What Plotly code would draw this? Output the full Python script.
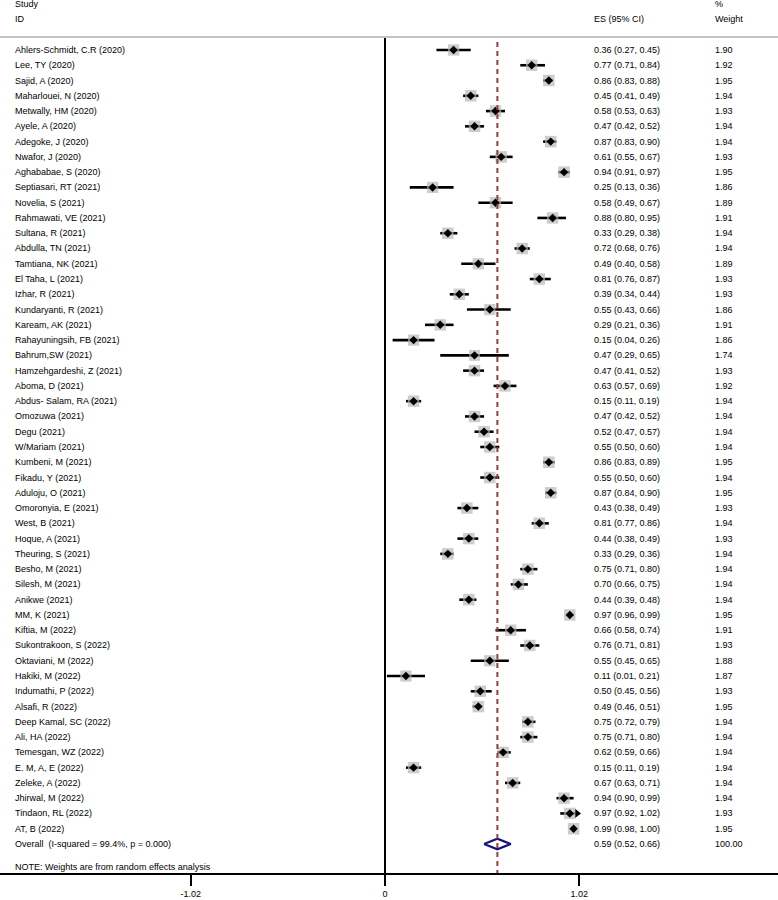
import plotly.graph_objects as go

# study-level data
studies = [
    'Ahlers-Schmidt, C.R (2020)', 'Lee, TY (2020)', 'Sajid, A (2020)', 'Maharlouei, N (2020)',
    'Metwally, HM (2020)', 'Ayele, A (2020)', 'Adegoke, J (2020)', 'Nwafor, J (2020)',
    'Aghababae, S (2020)', 'Septiasari, RT (2021)', 'Novelia, S (2021)', 'Rahmawati, VE (2021)',
    'Sultana, R (2021)', 'Abdulla, TN (2021)', 'Tamtiana, NK (2021)', 'El Taha, L (2021)',
    'Izhar, R (2021)', 'Kundaryanti, R (2021)', 'Kaream, AK (2021)', 'Rahayuningsih, FB (2021)',
    'Bahrum,SW (2021)', 'Hamzehgardeshi, Z (2021)', 'Aboma, D (2021)', 'Abdus- Salam, RA (2021)',
    'Omozuwa (2021)', 'Degu (2021)', 'W/Mariam (2021)', 'Kumbeni, M (2021)',
    'Fikadu, Y (2021)', 'Aduloju, O (2021)', 'Omoronyia, E (2021)', 'West, B (2021)',
    'Hoque, A (2021)', 'Theuring, S (2021)', 'Besho, M (2021)', 'Silesh, M (2021)',
    'Anikwe (2021)', 'MM, K (2021)', 'Kiftia, M (2022)', 'Sukontrakoon, S (2022)',
    'Oktaviani, M (2022)', 'Hakiki, M (2022)', 'Indumathi, P (2022)', 'Alsafi, R (2022)',
    'Deep Kamal, SC (2022)', 'Ali, HA (2022)', 'Temesgan, WZ (2022)', 'E. M, A, E (2022)',
    'Zeleke, A (2022)', 'Jhirwal, M (2022)', 'Tindaon, RL (2022)', 'AT, B (2022)',
]
es = [0.36, 0.77, 0.86, 0.45, 0.58, 0.47, 0.87, 0.61, 0.94, 0.25, 0.58, 0.88, 0.33,
      0.72, 0.49, 0.81, 0.39, 0.55, 0.29, 0.15, 0.47, 0.47, 0.63, 0.15, 0.47, 0.52,
      0.55, 0.86, 0.55, 0.87, 0.43, 0.81, 0.44, 0.33, 0.75, 0.70, 0.44, 0.97, 0.66,
      0.76, 0.55, 0.11, 0.50, 0.49, 0.75, 0.75, 0.62, 0.15, 0.67, 0.94, 0.97, 0.99]
ci_lo = [0.27, 0.71, 0.83, 0.41, 0.53, 0.42, 0.83, 0.55, 0.91, 0.13, 0.49, 0.80, 0.29,
         0.68, 0.40, 0.76, 0.34, 0.43, 0.21, 0.04, 0.29, 0.41, 0.57, 0.11, 0.42, 0.47,
         0.50, 0.83, 0.50, 0.84, 0.38, 0.77, 0.38, 0.29, 0.71, 0.66, 0.39, 0.96, 0.58,
         0.71, 0.45, 0.01, 0.45, 0.46, 0.72, 0.71, 0.59, 0.11, 0.63, 0.90, 0.92, 0.98]
ci_hi = [0.45, 0.84, 0.88, 0.49, 0.63, 0.52, 0.90, 0.67, 0.97, 0.36, 0.67, 0.95, 0.38,
         0.76, 0.58, 0.87, 0.44, 0.66, 0.36, 0.26, 0.65, 0.52, 0.69, 0.19, 0.52, 0.57,
         0.60, 0.89, 0.60, 0.90, 0.49, 0.86, 0.49, 0.36, 0.80, 0.75, 0.48, 0.99, 0.74,
         0.81, 0.65, 0.21, 0.56, 0.51, 0.79, 0.80, 0.66, 0.19, 0.71, 0.99, 1.02, 1.00]
weights = [1.90, 1.92, 1.95, 1.94, 1.93, 1.94, 1.94, 1.93, 1.95, 1.86, 1.89, 1.91, 1.94,
           1.94, 1.89, 1.93, 1.93, 1.86, 1.91, 1.86, 1.74, 1.93, 1.92, 1.94, 1.94, 1.94,
           1.94, 1.95, 1.94, 1.95, 1.93, 1.94, 1.93, 1.94, 1.94, 1.94, 1.94, 1.95, 1.91,
           1.93, 1.88, 1.87, 1.93, 1.95, 1.94, 1.94, 1.94, 1.94, 1.94, 1.94, 1.93, 1.95]

overall_label = 'Overall  (I-squared = 99.4%, p = 0.000)'
overall_es, overall_lo, overall_hi, overall_w = 0.59, 0.52, 0.66, 100.00
note = 'NOTE: Weights are from random effects analysis'
tick_vals = [-1.02, 0, 1.02]
tick_text = ['-1.02', '0', '1.02']

FONT = 'Liberation Sans, Arial, Helvetica, sans-serif'
n = len(studies)
rows = list(range(1, n + 1))
overall_row = n + 1

# column positions (data units on the x axis)
X_ID, X_ES, X_W = -1.953, 1.087, 1.722

fig = go.Figure()

# confidence interval lines
ci_x, ci_y = [], []
for r, lo, hi in zip(rows, ci_lo, ci_hi):
    ci_x += [lo, hi, None]
    ci_y += [r, r, None]
fig.add_trace(go.Scatter(x=ci_x, y=ci_y, mode='lines',
                         line=dict(color='black', width=2.6), hoverinfo='skip'))

# arrow where the CI runs past 1
arr = [(h, r) for h, r in zip(ci_hi, rows) if h > 1.0]
fig.add_trace(go.Scatter(x=[a[0] - 0.012 for a in arr], y=[a[1] for a in arr], mode='markers',
                         marker=dict(symbol='triangle-right', size=8, color='black'),
                         hoverinfo='skip'))

# weight boxes
fig.add_trace(go.Scatter(x=es, y=rows, mode='markers',
                         marker=dict(symbol='square', color='#b8b8b8',
                                     size=[11.5 * (w / max(weights)) ** 0.5 for w in weights],
                                     line=dict(width=0)),
                         hoverinfo='skip'))
# point estimates
fig.add_trace(go.Scatter(x=es, y=rows, mode='markers',
                         marker=dict(symbol='diamond', color='black', size=6.5, line=dict(width=0)),
                         hoverinfo='skip'))

# overall diamond
h = 0.35
fig.add_trace(go.Scatter(x=[overall_lo, overall_es, overall_hi, overall_es, overall_lo],
                         y=[overall_row, overall_row - h, overall_row, overall_row + h, overall_row],
                         mode='lines', line=dict(color='#14147a', width=2.2), hoverinfo='skip'))

# reference lines
fig.add_shape(type='line', x0=0, x1=0, y0=0.15, y1=54.9, xref='x', yref='y',
              line=dict(color='black', width=2))
fig.add_shape(type='line', x0=overall_es, x1=overall_es, y0=0.47, y1=54.9, xref='x', yref='y',
              line=dict(color='#9a3a3a', width=2, dash='5px,4px'))
fig.add_shape(type='line', x0=0, x1=1, y0=0.15, y1=0.15, xref='paper', yref='y',
              line=dict(color='#c4c4c4', width=2))

# text columns
def txt(x, y, s):
    fig.add_annotation(x=x, y=y, xref='x', yref='y', text=s, showarrow=False,
                       xanchor='left', yanchor='middle',
                       font=dict(family=FONT, size=9, color='black'))

txt(X_ID, -2, 'Study')
txt(X_ID, -1, 'ID')
txt(X_ES, -1, 'ES (95% CI)')
txt(X_W, -2, '%')
txt(X_W, -1, 'Weight')
for r, s, e, lo, hi, w in zip(rows, studies, es, ci_lo, ci_hi, weights):
    txt(X_ID, r, s)
    txt(X_ES, r, f'{e:.2f} ({lo:.2f}, {hi:.2f})')
    txt(X_W, r, f'{w:.2f}')
txt(X_ID, overall_row, overall_label)
txt(X_ES, overall_row, f'{overall_es:.2f} ({overall_lo:.2f}, {overall_hi:.2f})')
txt(X_W, overall_row, f'{overall_w:.2f}')
txt(X_ID, overall_row + 1.5, note)

fig.update_xaxes(range=[-2.021, 2.063], tickvals=tick_vals, ticktext=tick_text,
                 showline=True, linecolor='black', linewidth=2, ticks='outside',
                 ticklen=11, tickwidth=2, tickcolor='black', showgrid=False, zeroline=False,
                 tickfont=dict(family=FONT, size=9, color='black'))
fig.update_yaxes(range=[54.9, -2.274], autorange=False, visible=False, showgrid=False)
fig.update_layout(width=778, height=900, margin=dict(l=0, r=0, t=0, b=27),
                  showlegend=False, plot_bgcolor='white', paper_bgcolor='white')

# drop the default page margin so the figure sits at the window's corner
fig.write_html('out.html', config={'displayModeBar': False},
               post_script="document.body.style.margin='0';")
